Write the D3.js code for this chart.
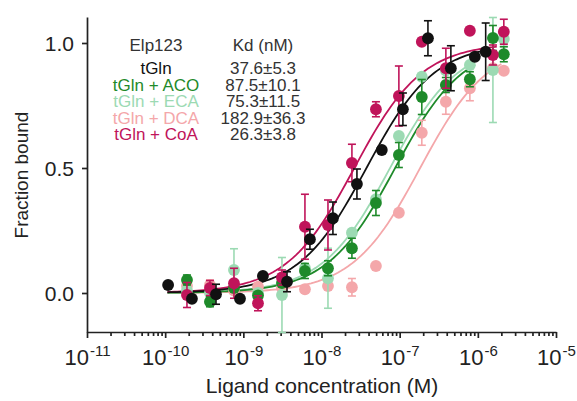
<!DOCTYPE html>
<html>
<head>
  <meta charset="utf-8" />
  <title>Elp123 binding</title>
  <style>
    body { margin: 0; background: #fff; }
    svg { font-family: "Liberation Sans", Arial, sans-serif; }
    .axis path, .axis line { stroke: #222; stroke-width: 1.7px; }
    .axis text { fill: #222; }
  </style>
  <script src="https://cdnjs.cloudflare.com/ajax/libs/d3/7.8.5/d3.min.js"></script>
</head>
<body>
  <div id="chart"></div>
  <script>
    // ligand concentrations (M)
    var concBlack = [1.09e-10, 2.2e-10, 4.47e-10, 9.06e-10, 1.78e-9, 3.62e-9, 7.11e-9, 1.4e-8,
      2.84e-8, 5.91e-8, 1.1e-7, 2.3e-7, 4.52e-7, 9.16e-7, 1.26e-6];
    var concOther = [1.9e-10, 3.74e-10, 7.59e-10, 1.54e-9, 3.12e-9, 6.14e-9, 1.21e-8, 2.45e-8,
      4.97e-8, 9.77e-8, 1.92e-7, 3.9e-7, 7.91e-7, 1.56e-6, 2.15e-6];

    // fraction bound, mean and error
    var tGln = [0.032, -0.023, -0.005, -0.023, 0.068, 0.045, 0.215, 0.299, 0.436, 0.572, 0.735, 1.019, 0.899, 0.945, 0.965];
    var tGlnErr = [0, 0, 0.04, 0, 0, 0.04, 0.04, 0.065, 0.06, 0, 0.065, 0.07, 0.09, 0, 0.115];
    var coa = [-0.008, 0.02, 0.039, -0.041, 0.062, 0.265, 0.272, 0.52, 0.735, 0.788, 1.005, 0.899, 1.049, 0.952, 1.045];
    var coaErr = [0.05, 0.03, 0.06, 0.03, 0.03, 0.13, 0.1, 0.075, 0.03, 0.12, 0, 0.08, 0, 0.04, 0.05];
    var aco = [0.052, -0.035, 0.02, -0.01, 0.04, 0.088, 0.099, 0.179, 0.36, 0.552, 0.784, 0.832, 0.855, 1.02, 0.955];
    var acoErr = [0.02, 0.02, 0, 0, 0, 0.03, 0.03, 0.04, 0.05, 0.05, 0.07, 0.03, 0.03, 0.05, 0.03];
    var eca = [0.01, 0.0, 0.092, 0.0, -0.008, 0.1, 0.059, 0.241, 0.375, 0.628, 0.865, 0.89, 0.912, 0.892, 1.016];
    var ecaErr = [0, 0, 0.085, 0, 0.15, 0, 0.12, 0, 0, 0, 0, 0, 0, 0.21, 0.03];
    var dca = [0.028, 0.032, 0.01, 0.025, 0.02, 0.015, 0.028, 0.023, 0.108, 0.321, 0.641, 0.765, 0.819, 0.899, 0.889];
    var dcaErr = [0, 0.02, 0, 0, 0, 0, 0, 0.035, 0, 0, 0.05, 0.05, 0.05, 0, 0];

    var names = ['tGln', 'tGln + ACO', 'tGln + ECA', 'tGln + DCA', 'tGln + CoA'];
    var kdLabels = ['37.6\u00b15.3', '87.5\u00b110.1', '75.3\u00b111.5', '182.9\u00b136.3', '26.3\u00b13.8'];
    var kdNM = [37.6, 87.5, 75.3, 182.9, 26.3];
    var curveEnd = [1.23e-6, 9.2e-7, 7.9e-7, 2.0e-6, 1.75e-6];
    var colors = ['#111111', '#1e8a2a', '#9cdab3', '#f4a7aa', '#c0145a'];
    var xTickExp = [-11, -10, -9, -8, -7, -6, -5];
    var yTicks = [0, 0.5, 1.0];

    var series = [
      { i: 3, conc: concOther, y: dca, err: dcaErr },
      { i: 2, conc: concOther, y: eca, err: ecaErr },
      { i: 1, conc: concOther, y: aco, err: acoErr },
      { i: 4, conc: concOther, y: coa, err: coaErr },
      { i: 0, conc: concBlack, y: tGln, err: tGlnErr }
    ];

    var W = 577, H = 401;
    var svg = d3.select('#chart').append('svg')
      .attr('width', W).attr('height', H);

    var x = d3.scaleLog().domain([1e-11, 1e-5]).range([87, 556]);
    var y = d3.scaleLinear().domain([-0.156, 1.104]).range([332, 17]);

    // x axis, major + minor ticks
    var minor = [];
    for (var e = -11; e < -5; e++) {
      for (var m = 2; m < 10; m++) minor.push(m * Math.pow(10, e));
    }
    var xg = svg.append('g').attr('class', 'axis')
      .attr('transform', 'translate(0,' + 332 + ')');
    xg.call(d3.axisBottom(x).tickValues(minor).tickSize(4).tickFormat('').tickSizeOuter(0));
    var xMaj = svg.append('g').attr('class', 'axis')
      .attr('transform', 'translate(0,' + 332 + ')')
      .call(d3.axisBottom(x).tickValues(xTickExp.map(function (p) { return Math.pow(10, p); }))
        .tickSize(6).tickFormat('').tickSizeOuter(0));
    xMaj.select('.domain').remove();
    xMaj.selectAll('.tick').append('text')
      .attr('y', 33).attr('text-anchor', 'middle')
      .style('font-size', '22px').attr('fill', '#222')
      .each(function (d) {
        var t = d3.select(this);
        t.append('tspan').text('10');
        t.append('tspan').attr('dy', -9).attr('dx', 1).style('font-size', '15px')
          .text('-' + Math.round(-Math.log10(d)));
      });

    // y axis
    var yg = svg.append('g').attr('class', 'axis')
      .attr('transform', 'translate(' + 87 + ',0)')
      .call(d3.axisLeft(y).tickValues(yTicks).tickSize(5).tickSizeOuter(0)
        .tickFormat(d3.format('.1f')));
    yg.selectAll('text').style('font-size', '21px').attr('x', -13).attr('dy', '0.36em');

    svg.append('text')
      .attr('transform', 'translate(28,' + 175 + ') rotate(-90)')
      .attr('text-anchor', 'middle').style('font-size', '19px').attr('fill', '#222')
      .text('Fraction bound');
    svg.append('text')
      .attr('x', 322).attr('y', 393)
      .attr('text-anchor', 'middle').style('font-size', '21px').attr('fill', '#222')
      .text('Ligand concentration (M)');

    // fitted curves
    var line = d3.line().x(function (d) { return x(d[0]); }).y(function (d) { return y(d[1]); });
    [3, 2, 1, 4, 0].forEach(function (i) {
      var lo = Math.log10(1.07e-10), hi = Math.log10(curveEnd[i]);
      var pts = d3.range(0, 101).map(function (k) {
        var c = Math.pow(10, lo + (hi - lo) * k / 100);
        return [c, c / (kdNM[i] * 1e-9 + c)];
      });
      svg.append('path').datum(pts).attr('d', line)
        .attr('fill', 'none').attr('stroke', colors[i]).attr('stroke-width', 1.8);
    });

    // data points with error bars
    series.forEach(function (s) {
      var rows = s.conc.map(function (c, k) { return { c: c, v: s.y[k], e: s.err[k] }; });
      var g = svg.append('g');
      var eb = g.selectAll('.eb').data(rows.filter(function (d) { return d.e > 0; }))
        .enter().append('g').attr('stroke', colors[s.i]).attr('stroke-width', 1.6);
      eb.append('line')
        .attr('x1', function (d) { return x(d.c); }).attr('x2', function (d) { return x(d.c); })
        .attr('y1', function (d) { return y(d.v - d.e); }).attr('y2', function (d) { return y(d.v + d.e); });
      eb.append('line')
        .attr('x1', function (d) { return x(d.c) - 4; }).attr('x2', function (d) { return x(d.c) + 4; })
        .attr('y1', function (d) { return y(d.v + d.e); }).attr('y2', function (d) { return y(d.v + d.e); });
      eb.append('line')
        .attr('x1', function (d) { return x(d.c) - 4; }).attr('x2', function (d) { return x(d.c) + 4; })
        .attr('y1', function (d) { return y(d.v - d.e); }).attr('y2', function (d) { return y(d.v - d.e); });
      g.selectAll('circle').data(rows).enter().append('circle')
        .attr('cx', function (d) { return x(d.c); })
        .attr('cy', function (d) { return y(d.v); })
        .attr('r', 5.9).attr('fill', colors[s.i]);
    });

    // legend
    var leg = svg.append('g').style('font-size', '17px').attr('text-anchor', 'middle');
    leg.append('text').attr('x', 156).attr('y', 51).attr('fill', '#333').text('Elp123');
    leg.append('text').attr('x', 263).attr('y', 51).attr('fill', '#333').text('Kd (nM)');
    names.forEach(function (n, i) {
      leg.append('text').attr('x', 156).attr('y', 74 + i * 16.6).attr('fill', colors[i]).text(n);
      leg.append('text').attr('x', 263).attr('y', 74 + i * 16.6).attr('fill', '#333').text(kdLabels[i]);
    });
  </script>
</body>
</html>
